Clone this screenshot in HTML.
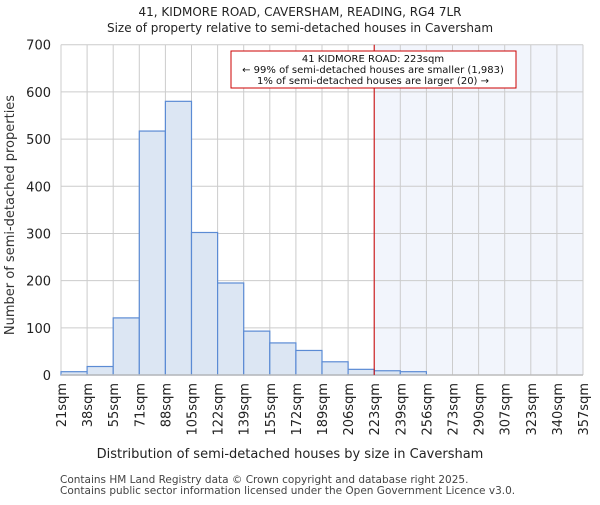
<!DOCTYPE html>
<html><head><meta charset="utf-8"><style>body{margin:0;background:#fff}svg{font-family:"DejaVu Sans","Liberation Sans",sans-serif}</style></head>
<body>
<svg id="c" width="600" height="500" xmlns="http://www.w3.org/2000/svg"></svg>
<script>
const labels=["21sqm","38sqm","55sqm","71sqm","88sqm","105sqm","122sqm","139sqm","155sqm","172sqm","189sqm","206sqm","223sqm","239sqm","256sqm","273sqm","290sqm","307sqm","323sqm","340sqm","357sqm"];
const counts=[7,18,121,517,580,302,195,93,68,52,28,12,9,7,0,0,0,0,0,0];
const yTicks=[0,100,200,300,400,500,600,700];
const markerIndex=12;
const L=61,R=583,T=44.7,B=375,YMAX=700;
const bw=(R-L)/counts.length;
const x=i=>L+i*bw;
const y=v=>B-(v/YMAX)*(B-T);
const s=document.getElementById('c');
const NS="http://www.w3.org/2000/svg";
function el(t,a,txt){const e=document.createElementNS(NS,t);for(const k in a)e.setAttribute(k,a[k]);if(txt!==undefined)e.textContent=txt;s.appendChild(e);return e;}
let e;
e=el('text',{x:300,y:16,'text-anchor':'middle','font-size':12,fill:'#222'},'41, KIDMORE ROAD, CAVERSHAM, READING, RG4 7LR');


e=el('text',{x:300,y:32,'text-anchor':'middle','font-size':12,fill:'#222'},'Size of property relative to semi-detached houses in Caversham');


e=el('rect',{x:x(markerIndex),y:T,width:R-x(markerIndex),height:B-T,fill:'#f2f5fc'});


yTicks.forEach(v=>{
 e=el('line',{x1:L,x2:R,y1:y(v),y2:y(v),stroke:'#ccc','stroke-width':1});
 
 
 e=el('text',{x:L-10,y:y(v)+5,'text-anchor':'end','font-size':13,fill:'#222'},String(v));
 
 
});
labels.forEach((lb,i)=>{
 e=el('line',{x1:x(i),x2:x(i),y1:T,y2:B,stroke:'#ccc','stroke-width':1});
 
 
 const tx=x(i)+5;
 e=el('text',{x:tx,y:B+8,'text-anchor':'end','font-size':13,fill:'#222',transform:`rotate(-90 ${tx} ${B+8})`},lb);
 
 
});
counts.forEach((v,i)=>{
 if(v<=0)return;
 e=el('rect',{x:x(i),y:y(v),width:bw,height:B-y(v),fill:'#dce6f3',stroke:'#5b8bd4','stroke-width':1.2});
 
 
});
e=el('line',{x1:L,x2:R,y1:B,y2:B,stroke:'#bbb','stroke-width':1.5});


e=el('line',{x1:x(markerIndex),x2:x(markerIndex),y1:T,y2:B,stroke:'#c00','stroke-width':1});


e=el('rect',{x:231,y:51,width:285,height:37,fill:'#fff',stroke:'#c00','stroke-width':1});


[['41 KIDMORE ROAD: 223sqm',62],['← 99% of semi-detached houses are smaller (1,983)',73],['1% of semi-detached houses are larger (20) →',84]].forEach(([t,yy])=>{
 e=el('text',{x:373,y:yy,'text-anchor':'middle','font-size':10,fill:'#111'},t);
 
 
});
e=el('text',{x:14,y:215,'text-anchor':'middle','font-size':13,fill:'#333',transform:'rotate(-90 14 215)'},'Number of semi-detached properties');


e=el('text',{x:290,y:458,'text-anchor':'middle','font-size':13,fill:'#222'},'Distribution of semi-detached houses by size in Caversham');


e=el('text',{x:60,y:483,'font-size':10.5,fill:'#444'},'Contains HM Land Registry data © Crown copyright and database right 2025.');


e=el('text',{x:60,y:494,'font-size':10.5,fill:'#444'},'Contains public sector information licensed under the Open Government Licence v3.0.');


</script>
</body></html>
